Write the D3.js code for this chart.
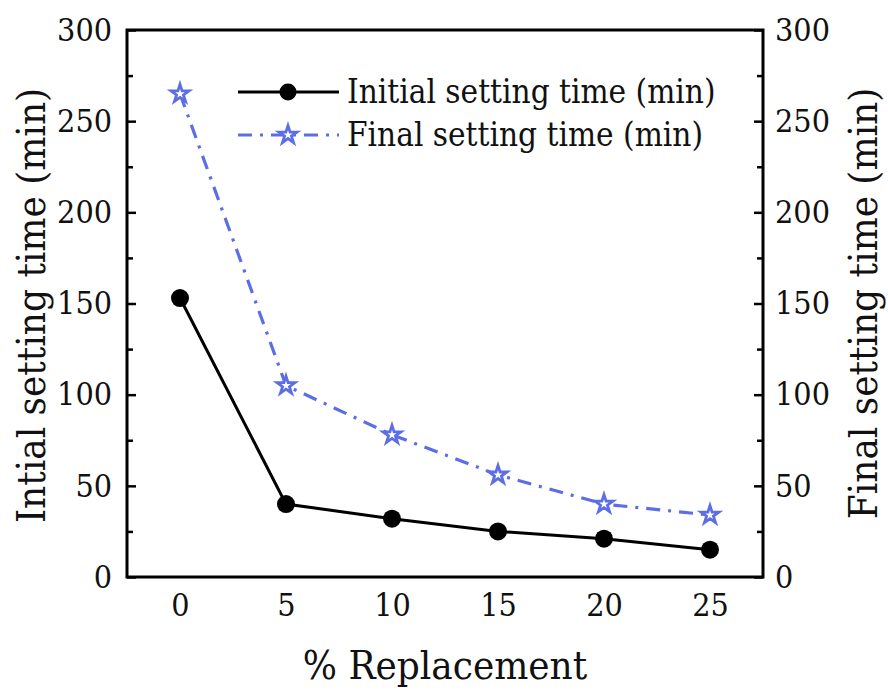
<!DOCTYPE html>
<html>
<head>
<meta charset="utf-8">
<script src="https://cdn.jsdelivr.net/npm/d3@7"></script>
<style>
  html, body { margin: 0; padding: 0; background: #fff; }
  svg { display: block; }
  text { font-family: "DejaVu Serif Condensed", "DejaVu Serif", serif; font-stretch: condensed; fill: #111; }
</style>
</head>
<body>
<svg id="chart" width="888" height="690"></svg>
<script>
// Setting time versus replacement level
const replacement = [0, 5, 10, 15, 20, 25];
const initialSetting = [153, 40, 32, 25, 21, 15];
const finalSetting = [265, 105, 78, 56, 40, 34];
const yTicks = [0, 50, 100, 150, 200, 250, 300];
const yMinorTicks = [25, 75, 125, 175, 225, 275];
const seriesNames = ["Initial setting time (min)", "Final setting time (min)"];

const W = 888, H = 690;
const plot = { left: 127, right: 763, top: 30, bottom: 577 };
const blue = "#5b6ee6";
const svg = d3.select("#chart");

const x = d3.scaleLinear().domain([-2.5, 27.5]).range([plot.left, plot.right]);
const yL = d3.scaleLinear().domain([0, 300]).range([plot.bottom, plot.top]);
const yR = d3.scaleLinear().domain([0, 300]).range([plot.bottom, plot.top]);

const tickFont = "32px";
const titleFont = "40px";

// left axis: major + minor ticks pointing inward
svg.append("g").attr("transform", `translate(${plot.left},0)`)
  .call(d3.axisLeft(yL).tickValues(yTicks).tickSizeInner(-9).tickSizeOuter(0).tickPadding(15));
svg.append("g").attr("transform", `translate(${plot.left},0)`)
  .call(d3.axisLeft(yL).tickValues(yMinorTicks).tickSizeInner(-6).tickSizeOuter(0).tickFormat(""));

// right axis
svg.append("g").attr("transform", `translate(${plot.right},0)`)
  .call(d3.axisRight(yR).tickValues(yTicks).tickSizeInner(-9).tickSizeOuter(0).tickPadding(12));
svg.append("g").attr("transform", `translate(${plot.right},0)`)
  .call(d3.axisRight(yR).tickValues(yMinorTicks).tickSizeInner(-6).tickSizeOuter(0).tickFormat(""));

// bottom axis: labels only
svg.append("g").attr("transform", `translate(0,${plot.bottom})`)
  .call(d3.axisBottom(x).tickValues(replacement).tickSize(0).tickPadding(16));

svg.selectAll(".domain").remove();
svg.selectAll(".tick line").attr("stroke", "#000").attr("stroke-width", 2.5);
svg.selectAll(".tick text").style("font-size", tickFont).attr("fill", "#111")
  .style("font-family", '"DejaVu Serif Condensed", "DejaVu Serif", serif');

// frame
svg.append("rect")
  .attr("x", plot.left).attr("y", plot.top)
  .attr("width", plot.right - plot.left).attr("height", plot.bottom - plot.top)
  .attr("fill", "none").attr("stroke", "#000").attr("stroke-width", 3);

// axis titles
svg.append("text")
  .attr("transform", `translate(45,${(plot.top + plot.bottom) / 2 + 2}) rotate(-90)`)
  .attr("text-anchor", "middle").style("font-size", titleFont)
  .text("Intial setting time (min)");
svg.append("text")
  .attr("transform", `translate(877,${(plot.top + plot.bottom) / 2}) rotate(-90)`)
  .attr("text-anchor", "middle").style("font-size", titleFont)
  .text("Final setting time (min)");
svg.append("text")
  .attr("x", (plot.left + plot.right) / 2).attr("y", 679)
  .attr("text-anchor", "middle").style("font-size", titleFont)
  .text("% Replacement");

// series
const lineInit = d3.line().x((d, i) => x(replacement[i])).y(d => yL(d));
const lineFinal = d3.line().x((d, i) => x(replacement[i])).y(d => yR(d));

svg.append("path").datum(finalSetting)
  .attr("d", lineFinal).attr("fill", "none")
  .attr("stroke", blue).attr("stroke-width", 3.2)
  .attr("stroke-dasharray", "14,8,3,8");

svg.append("path").datum(initialSetting)
  .attr("d", lineInit).attr("fill", "none")
  .attr("stroke", "#000").attr("stroke-width", 3);

const star = d3.symbol().type(d3.symbolStar).size(100);

svg.selectAll(".pt-final").data(finalSetting).join("path")
  .attr("class", "pt-final")
  .attr("transform", (d, i) => `translate(${x(replacement[i])},${yR(d)})`)
  .attr("d", star).attr("fill", "#fff").attr("stroke", blue).attr("stroke-width", 2.8);

svg.selectAll(".pt-init").data(initialSetting).join("circle")
  .attr("class", "pt-init")
  .attr("cx", (d, i) => x(replacement[i])).attr("cy", d => yL(d))
  .attr("r", 9).attr("fill", "#000");

// legend
const leg = svg.append("g");
const legY = [92, 135];
leg.append("line").attr("x1", 238).attr("x2", 339).attr("y1", legY[0]).attr("y2", legY[0])
  .attr("stroke", "#000").attr("stroke-width", 3);
leg.append("circle").attr("cx", 288).attr("cy", legY[0]).attr("r", 8.5).attr("fill", "#000");
leg.append("line").attr("x1", 238).attr("x2", 339).attr("y1", legY[1]).attr("y2", legY[1])
  .attr("stroke", blue).attr("stroke-width", 3.2).attr("stroke-dasharray", "14,8,3,8");
leg.append("path").attr("transform", `translate(288,${legY[1]})`)
  .attr("d", star).attr("fill", "#fff").attr("stroke", blue).attr("stroke-width", 2.8);
leg.selectAll("text.lbl").data(seriesNames).join("text")
  .attr("class", "lbl")
  .attr("x", 347).attr("y", (d, i) => legY[i] + 11)
  .style("font-size", "33px")
  .text(d => d);
</script>
</body>
</html>
